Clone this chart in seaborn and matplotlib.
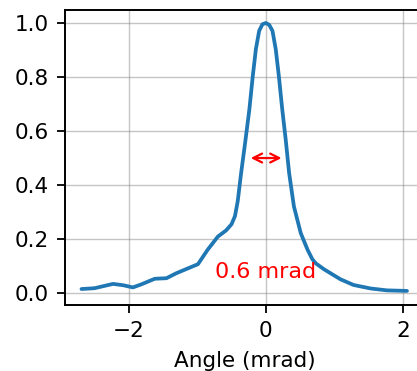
import numpy as np
import pandas as pd
import seaborn as sns
import matplotlib
matplotlib.use("Agg")
import matplotlib.pyplot as plt

# Angular profile
angle = [-2.69, -2.50, -2.23, -2.08, -1.94, -1.82, -1.62, -1.45, -1.31, -1.16,
         -0.99, -0.85, -0.70, -0.58, -0.50, -0.45, -0.41, -0.36, -0.30,
         -0.24, -0.19, -0.145, -0.097, -0.05, 0.0, 0.05, 0.097, 0.145, 0.19,
         0.24, 0.29, 0.34, 0.41, 0.51, 0.61, 0.68, 0.73, 0.85, 1.09, 1.28,
         1.53, 1.77, 2.06]
intensity = [0.015, 0.018, 0.034, 0.029, 0.021, 0.032, 0.053, 0.055, 0.073, 0.089,
             0.107, 0.160, 0.209, 0.232, 0.255, 0.285, 0.340, 0.445, 0.560,
             0.680, 0.804, 0.903, 0.971, 0.995, 1.0, 0.993, 0.971, 0.903, 0.804,
             0.680, 0.569, 0.445, 0.321, 0.222, 0.160, 0.125, 0.110, 0.088, 0.051, 0.030,
             0.017, 0.010, 0.008]
fwhm_label = "0.6 mrad"
fwhm_span = [-0.22, 0.23]

df = pd.DataFrame({"angle": angle, "intensity": intensity})

sns.set_style("ticks")
plt.rcParams["font.family"] = ["DejaVu Sans"]

fig = plt.figure(figsize=(4.17, 3.71), dpi=100)
ax = fig.add_axes([0.156, 0.178, 0.861, 0.795])

sns.lineplot(data=df, x="angle", y="intensity", ax=ax, color="#1f77b4", linewidth=2.7)

ax.set_xticks([-2, 0, 2])
ax.set_yticks([0.0, 0.2, 0.4, 0.6, 0.8, 1.0])
ax.set_xlim(-2.93, 2.31)
ax.set_ylim(-0.044, 1.048)
ax.grid(True, color="gray", alpha=0.45, linewidth=1)
ax.tick_params(labelsize=15.5, length=5.5, width=1.3, pad=6, colors="black")
for s in ax.spines.values():
    s.set_linewidth(1.4)
    s.set_color("black")

ax.set_xlabel("Angle (mrad)", fontsize=15.5, labelpad=7, color="black")
ax.set_ylabel("")

ax.annotate("", xy=(fwhm_span[0], 0.5), xytext=(fwhm_span[1], 0.5),
            arrowprops=dict(arrowstyle="<->", color="red", lw=1.6,
                            shrinkA=0, shrinkB=0, mutation_scale=16))
ax.text(0, 0.078, fwhm_label, color="red", fontsize=16, ha="center", va="center")

fig.savefig("out.png", dpi=100)
